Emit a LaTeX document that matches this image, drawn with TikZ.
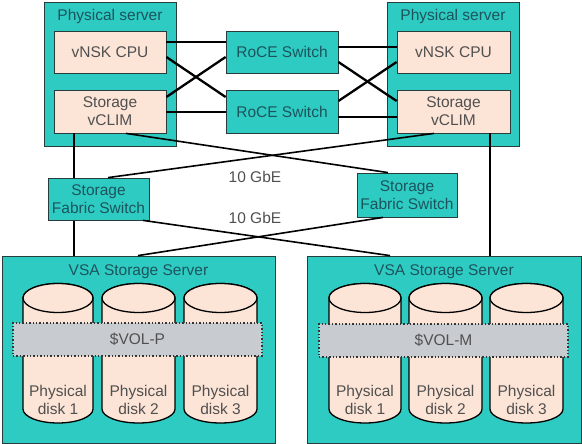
\documentclass[tikz,border=0pt]{standalone}
\usepackage{fontspec}
\setmainfont{Liberation Sans}
\definecolor{teal1}{RGB}{46,203,195}
\definecolor{peach}{RGB}{252,228,214}
\definecolor{bandgray}{RGB}{200,204,208}
\definecolor{tealtext}{RGB}{28,84,92}
\definecolor{graytext}{RGB}{80,80,80}
\definecolor{edge}{RGB}{40,60,60}
\tikzset{
  fnt/.style={font=\fontsize{15.5}{18}\selectfont},
  server/.style={draw=edge, line width=0.8pt, fill=teal1, inner sep=0pt},
  inner/.style={draw=edge, line width=0.8pt, fill=peach, fnt, text=graytext, align=center, inner sep=0pt, minimum width=112pt, minimum height=42pt},
  sw/.style={draw=edge, line width=0.8pt, fill=teal1, fnt, text=tealtext, align=center, inner sep=0pt},
  title/.style={fnt, text=tealtext},
  lbl/.style={fnt, text=graytext, align=center},
  link/.style={line width=2.3pt, black},
  vlink/.style={line width=2.7pt, black},
  xlink/.style={line width=1.6pt, black},
  cyl/.style={draw=black, line width=1.3pt, fill=peach},
  band/.style={draw=black!80, line width=1.4pt, dotted, fill=bandgray},
}
\begin{document}
\begin{tikzpicture}[x=1pt,y=-1pt]
\useasboundingbox (0,0) rectangle (582,444);
% servers
\node[server, minimum width=132pt, minimum height=144pt] (srvL) at (110,74) {};
\node[title] (srvLt) at (110,16) {Physical server};
\node[server, minimum width=132pt, minimum height=144pt] (srvR) at (453,74) {};
\node[title] (srvRt) at (453,16) {Physical server};
\node[inner] (vnskL) at (110,52) {vNSK CPU};
\node[inner, minimum height=43pt] (vclimL) at (110,111.5) {Storage\\vCLIM};
\node[inner, minimum width=113pt] (vnskR) at (453.5,52) {vNSK CPU};
\node[inner, minimum width=113pt, minimum height=43pt] (vclimR) at (453.5,111.5) {Storage\\vCLIM};
\node[sw, minimum width=112pt, minimum height=42pt] (roceT) at (282,52) {RoCE Switch};
\node[sw, minimum width=112pt, minimum height=43pt] (roceB) at (282,111.5) {RoCE Switch};
% VSA servers
\node[server, minimum width=273pt, minimum height=187pt] (vsaL) at (138.5,349.5) {};
\node[title] (vsaLt) at (138.5,272) {VSA Storage Server};
\node[server, minimum width=274pt, minimum height=187pt] (vsaR) at (444,349.5) {};
\node[title] (vsaRt) at (444,272) {VSA Storage Server};
% cylinders
\foreach \n/\a/\b/\t in {c1/23/93/disk 1, c2/102/175/disk 2, c3/184/257/disk 3, d1/329/401/disk 1, d2/409/482/disk 2, d3/490/563/disk 3}{
  \pgfmathsetmacro{\rx}{(\b-\a)/2}
  \pgfmathsetmacro{\cx}{(\b+\a)/2}
  \path[cyl] (\a,298) -- (\a,409) arc[start angle=180, end angle=0, x radius=\rx, y radius=14] -- (\b,298) arc[start angle=0, end angle=-180, x radius=\rx, y radius=14.5] -- cycle;
  \path[cyl] (\cx,298) ellipse[x radius=\rx, y radius=14.5];
  \node[lbl] (\n) at (\cx,400) {Physical\\\t};
}
\node[band, minimum width=249pt, minimum height=33pt, inner sep=0pt] (volP) at (137.5,339.5) {};
\node[lbl] (volPt) at (137.5,339.5) {\$VOL-P};
\node[band, minimum width=249pt, minimum height=33pt, inner sep=0pt] (volM) at (443.5,340.5) {};
\node[lbl] (volMt) at (443.5,340.5) {\$VOL-M};
% RoCE links
\draw[link] (vnskL.east |- 0,42) -- (roceT.west |- 0,42);
\draw[link] (vnskL.east |- 0,57) -- (roceB.west |- 0,97);
\draw[link] (vclimL.east |- 0,97) -- (roceT.west |- 0,57);
\draw[link] (vclimL.east |- 0,112) -- (roceB.west |- 0,112);
\draw[link] (roceT.east |- 0,47) -- (vnskR.west |- 0,47);
\draw[link] (roceT.east |- 0,62) -- (vclimR.west |- 0,101);
\draw[link] (roceB.east |- 0,101) -- (vnskR.west |- 0,62);
\draw[link] (roceB.east |- 0,117) -- (vclimR.west |- 0,117);
% vertical storage links
\coordinate (fL) at (98.5,199);
\coordinate (fR) at (407,195);
\draw[vlink] (vclimL.south -| 74,0) -- (vsaL.north -| 74,0);
\draw[vlink] (vclimR.south -| 490,0) -- (vsaR.north -| 490,0);
% fabric switches
\node[sw, minimum width=101pt, minimum height=42pt] (fabL) at (fL) {Storage\\Fabric Switch};
\node[sw, minimum width=100pt, minimum height=44pt] (fabR) at (fR) {Storage\\Fabric Switch};
% cross links
\draw[xlink] (vclimL.south -| 126,0) -- (fabR.north -| 388,0);
\draw[xlink] (vclimR.south -| 434,0) -- (fabL.north -| 108,0);
\draw[xlink] (fabL.south -| 143,0) -- (vsaR.north -| 390,0);
\draw[xlink] (fabR.south -| 383,0) -- (vsaL.north -| 138,0);
\node[lbl] (g1) at (255,177) {10 GbE};
\node[lbl] (g2) at (255,218) {10 GbE};
\end{tikzpicture}
\end{document}
